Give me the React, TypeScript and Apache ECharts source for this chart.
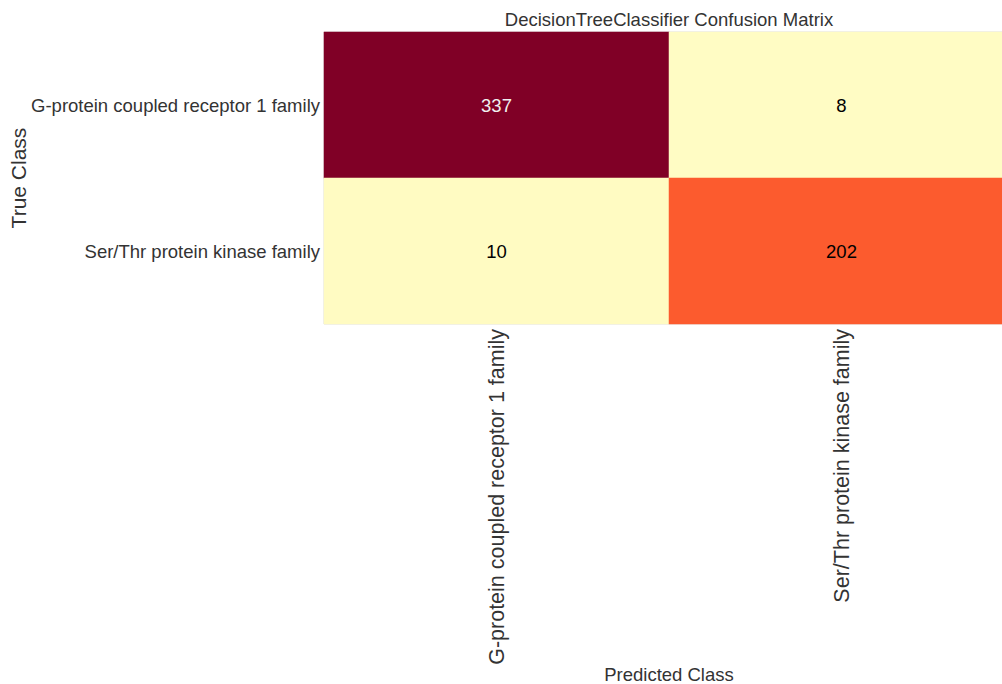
import React, { useEffect, useRef } from "react";
import * as echarts from "echarts";

const predictedClasses = ["G-protein coupled receptor 1 family", "Ser/Thr protein kinase family"];
const trueClasses = ["G-protein coupled receptor 1 family", "Ser/Thr protein kinase family"];
// rows = true class, cols = predicted class
const matrixRow0 = [337, 8];
const matrixRow1 = [10, 202];
const ylOrRd = ["#ffffcc", "#ffeda0", "#fed976", "#feb24c", "#fd8d3c", "#fc4e2a", "#e31a1c", "#bd0026", "#800026"];

export default function App() {
  const ref = useRef<HTMLDivElement>(null);
  useEffect(() => {
    if (!ref.current) return;
    const chart = echarts.init(ref.current, undefined, { renderer: "svg" });
    const rows = [matrixRow0, matrixRow1];
    const all = rows.flat();
    const vmax = Math.max(...all);
    const data: any[] = [];
    rows.forEach((row, r) => {
      row.forEach((v, c) => {
        const frac = v / vmax;
        data.push({
          value: [c, r, v],
          label: { color: frac > 0.8 ? "#f0f0f0" : "#000000" },
        });
      });
    });
    const font = "Arial, 'Liberation Sans', sans-serif";
    chart.setOption({
      animation: false,
      textStyle: { fontFamily: font },
      grid: {
        left: 324, top: 32, width: 690, height: 292,
        outerBoundsMode: "none", containLabel: false,
        show: true, borderColor: "#dddddd", borderWidth: 1, backgroundColor: "transparent",
      },
      xAxis: {
        type: "category",
        data: predictedClasses,
        position: "bottom",
        axisLine: { show: false },
        axisTick: { show: false },
        splitArea: { show: false },
        axisLabel: { rotate: 90, fontSize: 21.5, color: "#333333", margin: 5, fontFamily: font },
      },
      yAxis: {
        type: "category",
        data: trueClasses,
        inverse: true,
        axisLine: { show: false },
        axisTick: { show: false },
        splitArea: { show: false },
        axisLabel: { fontSize: 18.5, color: "#333333", margin: 4, fontFamily: font },
      },
      visualMap: {
        show: false,
        type: "continuous",
        min: 0,
        max: vmax,
        dimension: 2,
        inRange: { color: ylOrRd },
      },
      series: [
        {
          type: "heatmap",
          data,
          label: { show: true, fontSize: 18.5, fontFamily: font, formatter: (p: any) => String(p.value[2]) },
          itemStyle: { borderWidth: 0 },
          emphasis: { disabled: true },
        },
      ],
      graphic: [
        {
          type: "text",
          x: 669,
          y: 19,
          style: { text: "DecisionTreeClassifier Confusion Matrix", fontSize: 18.5, fill: "#333333", align: "center", verticalAlign: "middle", fontFamily: font },
        },
        {
          type: "text",
          x: 669,
          y: 674,
          style: { text: "Predicted Class", fontSize: 18.5, fill: "#333333", align: "center", verticalAlign: "middle", fontFamily: font },
        },
        {
          type: "text",
          x: 18,
          y: 178,
          rotation: Math.PI / 2,
          style: { text: "True Class", fontSize: 21, fill: "#333333", align: "center", verticalAlign: "middle", fontFamily: font },
        },
      ],
    });
    return () => chart.dispose();
  }, []);
  return <div ref={ref} style={{ position: "absolute", left: 0, top: 0, width: 1002, height: 684 }} />;
}
